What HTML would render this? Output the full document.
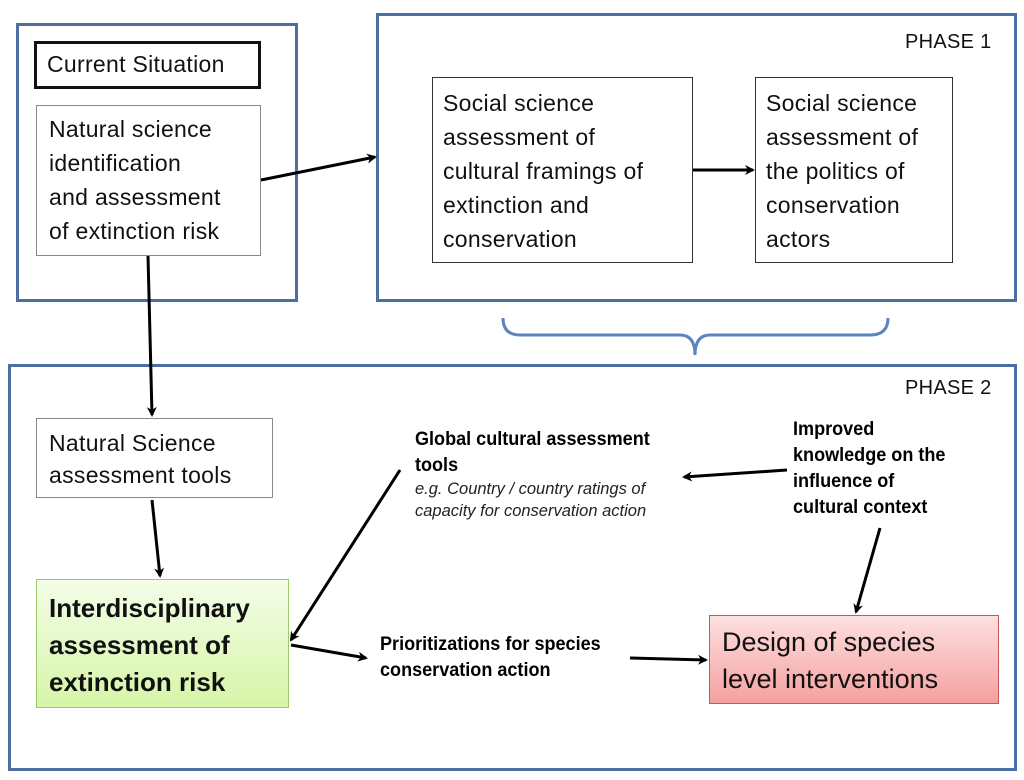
<!DOCTYPE html>
<html><head><meta charset="utf-8"><style>
body{margin:0;width:1024px;height:780px;background:#fff;position:relative;overflow:hidden;font-family:"Liberation Sans",sans-serif}
div{position:absolute;box-sizing:border-box;white-space:nowrap}
.blue{border:3px solid #4a6fa0}
.t{font-size:23px;color:#111;line-height:34px;letter-spacing:0.3px}
.b{font-weight:bold;font-size:19px;line-height:26px;color:#000;transform:scaleX(0.95);transform-origin:left}
</style></head><body>
<div class="blue" style="left:16px;top:23px;width:282px;height:279px"></div>
<div class="blue" style="left:376px;top:13px;width:641px;height:289px"></div>
<div class="blue" style="left:8px;top:364px;width:1009px;height:407px"></div>
<div class="t" style="left:905px;top:25px;font-size:20px">PHASE 1</div>
<div class="t" style="left:905px;top:371px;font-size:20px">PHASE 2</div>
<div class="t" style="left:34px;top:41px;width:227px;height:48px;border:3px solid #111;padding-left:10px;line-height:40px">Current Situation</div>
<div class="t" style="left:36px;top:105px;width:225px;height:151px;border:1px solid #888;padding:6px 0 0 12px">Natural science<br>identification<br>and assessment<br>of extinction risk</div>
<div class="t" style="left:432px;top:77px;width:261px;height:186px;border:1px solid #333;padding:8px 0 0 10px">Social science<br>assessment of<br>cultural framings of<br>extinction and<br>conservation</div>
<div class="t" style="left:755px;top:77px;width:198px;height:186px;border:1px solid #333;padding:8px 0 0 10px">Social science<br>assessment of<br>the politics of<br>conservation<br>actors</div>
<div class="t" style="left:36px;top:418px;width:237px;height:80px;border:1px solid #888;padding:8px 0 0 12px;line-height:32px">Natural Science<br>assessment tools</div>
<div style="left:36px;top:579px;width:253px;height:129px;border:1px solid #9c6;background:linear-gradient(#f4fde8,#d6f5a8);padding:10px 0 0 12px;font-weight:bold;font-size:26px;line-height:37px;color:#111">Interdisciplinary<br>assessment of<br>extinction risk</div>
<div style="left:709px;top:615px;width:290px;height:89px;border:1px solid #c55;background:linear-gradient(#fde0e0,#f5a0a0);padding:8px 0 0 12px;font-size:27px;line-height:37px;color:#111">Design of species<br>level interventions</div>
<div class="b" style="left:415px;top:427px">Global cultural assessment<br>tools</div>
<div style="left:415px;top:478px;font-style:italic;font-size:16.5px;line-height:22px;color:#222">e.g. Country / country ratings of<br>capacity for conservation action</div>
<div class="b" style="left:793px;top:417px">Improved<br>knowledge on the<br>influence of<br>cultural context</div>
<div class="b" style="left:380px;top:632px">Prioritizations for species<br>conservation action</div>
<svg width="1024" height="780" style="position:absolute;left:0;top:0">
<defs><marker id="a" markerWidth="10" markerHeight="10" refX="8" refY="5" orient="auto" markerUnits="userSpaceOnUse"><path d="M0,0 L10,5 L0,10 L3,5z" fill="#000"/></marker></defs>
<g stroke="#000" stroke-width="3" fill="none" marker-end="url(#a)">
<line x1="261" y1="180" x2="375" y2="157"/>
<line x1="148" y1="256" x2="152" y2="415"/>
<line x1="152" y1="500" x2="160" y2="576"/>
<line x1="693" y1="170" x2="753" y2="170"/>
<line x1="400" y1="470" x2="291" y2="640"/>
<line x1="787" y1="470" x2="684" y2="477"/>
<line x1="880" y1="528" x2="856" y2="612"/>
<line x1="291" y1="645" x2="366" y2="658"/>
<line x1="630" y1="658" x2="706" y2="660"/>
</g>
<path d="M503,318 Q503,335 520,335 L680,335 Q695,335 695,355 Q695,335 710,335 L870,335 Q888,335 888,318" stroke="#5b84c0" stroke-width="3" fill="none"/>
</svg>
</body></html>
